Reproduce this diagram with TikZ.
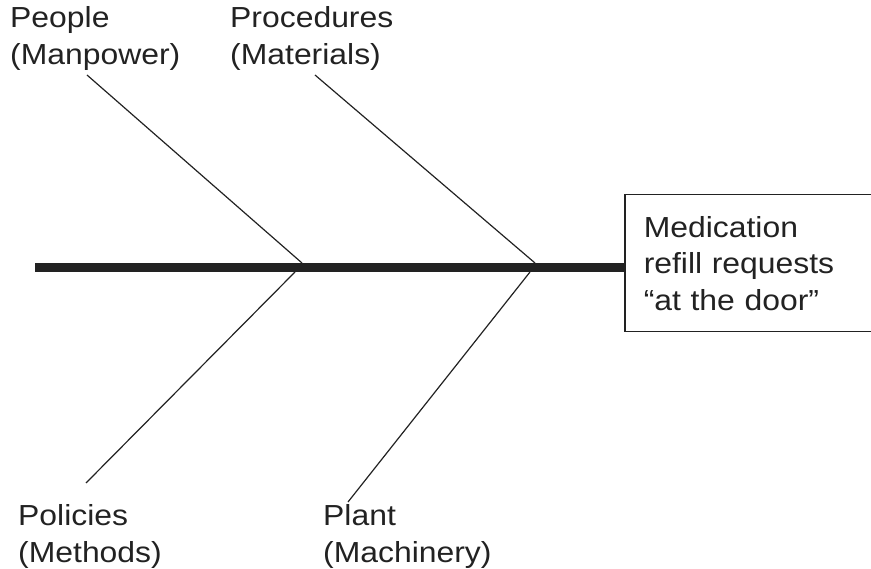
\documentclass[tikz,border=0pt]{standalone}
\usepackage{fontspec}
\setmainfont[FakeStretch=1.1]{Liberation Sans}
\usetikzlibrary{positioning}
\definecolor{ink}{HTML}{222222}

\begin{document}
\begin{tikzpicture}[x=1pt, y=-1pt,
  bone/.style={ink, line width=1.2pt},
  cause/.style={anchor=base west, inner sep=0pt, align=left, text=ink,
    font=\fontsize{29}{37}\selectfont}]
\useasboundingbox (0,0) rectangle (871,569);
\clip (0,0) rectangle (871,569);
\def\spiney{267.5}

% effect box (runs off the right edge)
\node[draw=ink, line width=1.5pt, anchor=north west, minimum height=137pt,
  text width=250pt, inner xsep=19pt, align=left, text=ink,
  font=\fontsize{29}{36.5}\selectfont] (effect) at (624,194)
  {Medication\\refill requests\\``at the door''};

% spine
\coordinate (tail) at (35,\spiney);
\draw[ink, line width=8.4pt] (tail) -- (tail -| effect.west);

% cause labels (anchored at the second line)
\node[cause] (people) at (10,65) {People\\(Manpower)};
\node[cause] (procedures) at (230,65) {Procedures\\(Materials)};
\node[cause] (policies) at (18,562) {Policies\\(Methods)};
\node[cause] (plant) at (323,562) {Plant\\(Machinery)};

% bone ends
\coordinate (peopletip) at (87,75);
\coordinate (peoplejoint) at (302,263);
\coordinate (proctip) at (315,75);
\coordinate (procjoint) at (535,263);
\coordinate (policytip) at (86,483);
\coordinate (policyjoint) at (295,272);
\coordinate (planttip) at (348,502);
\coordinate (plantjoint) at (530,272);

\draw[bone] (peopletip) -- (peoplejoint);
\draw[bone] (proctip) -- (procjoint);
\draw[bone] (policytip) -- (policyjoint);
\draw[bone] (planttip) -- (plantjoint);

\end{tikzpicture}
\end{document}
